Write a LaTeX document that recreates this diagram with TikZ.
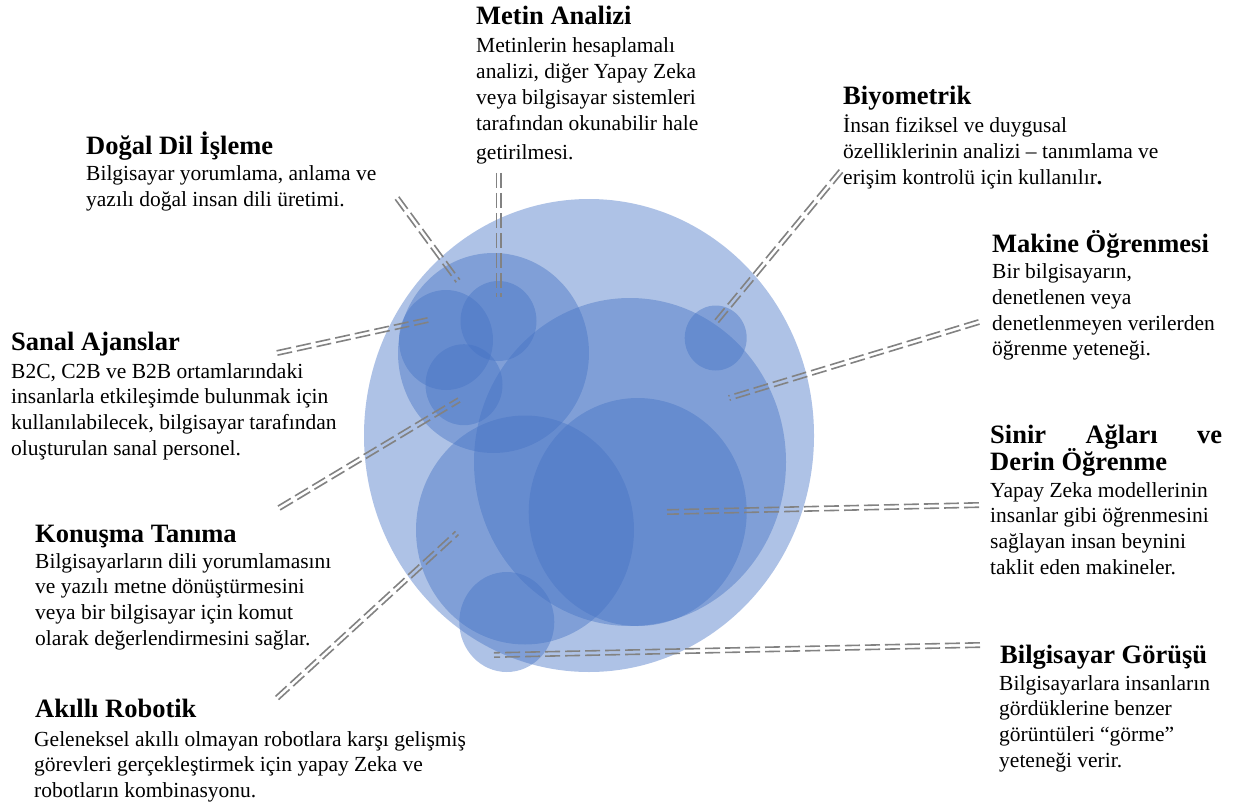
\documentclass[tikz,border=0pt]{standalone}
\usepackage{fontspec}
\setmainfont{Liberation Serif}
\usetikzlibrary{calc,shapes.geometric}
\definecolor{blob}{HTML}{4472C4}
\definecolor{lnk}{RGB}{130,130,130}
\tikzset{
  blobnode/.style={ellipse, draw=none, fill=blob, fill opacity=0.43, inner sep=0pt, outer sep=0pt},
  headtxt/.style={anchor=base west, inner sep=0pt, font=\fontsize{26.5}{30}\selectfont\bfseries},
  bodytxt/.style={anchor=base west, inner sep=0pt, font=\fontsize{21.5}{25.8}\selectfont},
  conn/.style={draw=lnk, line width=1.6pt, dash pattern=on 15pt off 5pt},
}
\newcommand\dconn[2]{%
  \draw[conn] ($(#1)!2.2pt!90:(#2)$) -- ($(#2)!2.2pt!-90:(#1)$);
  \draw[conn] ($(#1)!2.2pt!-90:(#2)$) -- ($(#2)!2.2pt!90:(#1)$);}
\newcommand\txtlines[1]{\begin{tabular}[t]{@{}l@{}}#1\end{tabular}}
\begin{document}
\begin{tikzpicture}[x=1pt,y=-1pt]
\useasboundingbox (0,0) rectangle (1236,805);
% circles
\node[blobnode, minimum width=450pt, minimum height=473pt] (big) at (589,435.5) {};
\node[blobnode, minimum width=191pt, minimum height=200pt] (ca) at (493.5,353) {};
\node[blobnode, minimum width=76pt, minimum height=80pt] (cb) at (498.5,321) {};
\node[blobnode, minimum width=94pt, minimum height=100pt] (cc) at (446,340) {};
\node[blobnode, minimum width=77pt, minimum height=81pt] (cd) at (464,384.7) {};
\node[blobnode, minimum width=312pt, minimum height=328pt] (ce) at (630,462) {};
\node[blobnode, minimum width=218pt, minimum height=228pt] (cf) at (637.7,512) {};
\node[blobnode, minimum width=218pt, minimum height=229pt] (cg) at (525,530) {};
\node[blobnode, minimum width=62pt, minimum height=65pt] (ch) at (715.7,338) {};
\node[blobnode, minimum width=95pt, minimum height=100pt] (ci) at (506.8,622) {};
% connector end points
\coordinate (c1a) at (397,198);   \coordinate (c1b) at (458,281);
\coordinate (c2a) at (498.5,173); \coordinate (c2b) at (498.5,297);
\coordinate (c3a) at (277,353);   \coordinate (c3b) at (428,320);
\coordinate (c4a) at (279,508);   \coordinate (c4b) at (459,400);
\coordinate (c5a) at (277,698);   \coordinate (c5b) at (457,533);
\coordinate (c6a) at (841,171);   \coordinate (c6b) at (716,322);
\coordinate (c7a) at (979,322);   \coordinate (c7b) at (729,398);
\coordinate (c8a) at (979,505);   \coordinate (c8b) at (667,512);
\coordinate (c9a) at (980,645);   \coordinate (c9b) at (494,655);
\dconn{c1a}{c1b}
\dconn{c2a}{c2b}
\dconn{c3a}{c3b}
\dconn{c4a}{c4b}
\dconn{c5a}{c5b}
\dconn{c6a}{c6b}
\dconn{c7a}{c7b}
\dconn{c8a}{c8b}
\dconn{c9a}{c9b}
% texts
\node[headtxt] (h1) at (476,25) {Metin Analizi};
\node[bodytxt] (b1) at (476,53) {\txtlines{Metinlerin hesaplamalı\\ analizi, diğer Yapay Zeka\\ veya bilgisayar sistemleri\\ tarafından okunabilir hale\\[3pt] getirilmesi.}};
\node[headtxt] (h2) at (86,155) {Doğal Dil İşleme};
\node[bodytxt] (b2) at (86,181) {\txtlines{Bilgisayar yorumlama, anlama ve\\ yazılı doğal insan dili üretimi.}};
\node[headtxt] (h3) at (843,105) {Biyometrik};
\node[bodytxt] (b3) at (843,133) {\txtlines{İnsan fiziksel ve duygusal\\ özelliklerinin analizi – tanımlama ve\\ erişim kontrolü için kullanılır{\bfseries .}}};
\node[headtxt] (h4) at (992,252) {Makine Öğrenmesi};
\node[bodytxt] (b4) at (992,278.5) {\txtlines{Bir bilgisayarın,\\ denetlenen veya\\ denetlenmeyen verilerden\\ öğrenme yeteneği.}};
\node[headtxt] (h5) at (11,350) {Sanal Ajanslar};
\node[bodytxt] (b5) at (11,378) {\txtlines{B2C, C2B ve B2B ortamlarındaki\\ insanlarla etkileşimde bulunmak için\\ kullanılabilecek, bilgisayar tarafından\\ oluşturulan sanal personel.}};
\node[headtxt] (h6) at (990,443) {\makebox[232pt][s]{Sinir Ağları ve}};
\node[headtxt] (h6b) at (990,470.5) {Derin Öğrenme};
\node[bodytxt] (b6) at (990,497) {\txtlines{Yapay Zeka modellerinin\\ insanlar gibi öğrenmesini\\ sağlayan insan beynini\\ taklit eden makineler.}};
\node[headtxt] (h7) at (35,542) {Konuşma Tanıma};
\node[bodytxt] (b7) at (35,568) {\txtlines{Bilgisayarların dili yorumlamasını\\ ve yazılı metne dönüştürmesini\\ veya bir bilgisayar için komut\\ olarak değerlendirmesini sağlar.}};
\node[headtxt] (h8) at (1000,663) {Bilgisayar Görüşü};
\node[bodytxt] (b8) at (999,690) {\txtlines{Bilgisayarlara insanların\\ gördüklerine benzer\\ görüntüleri “görme”\\ yeteneği verir.}};
\node[headtxt] (h9) at (35,717) {Akıllı Robotik};
\node[bodytxt] (b9) at (34,746) {\txtlines{Geleneksel akıllı olmayan robotlara karşı gelişmiş\\ görevleri gerçekleştirmek için yapay Zeka ve\\ robotların kombinasyonu.}};
\end{tikzpicture}
\end{document}
